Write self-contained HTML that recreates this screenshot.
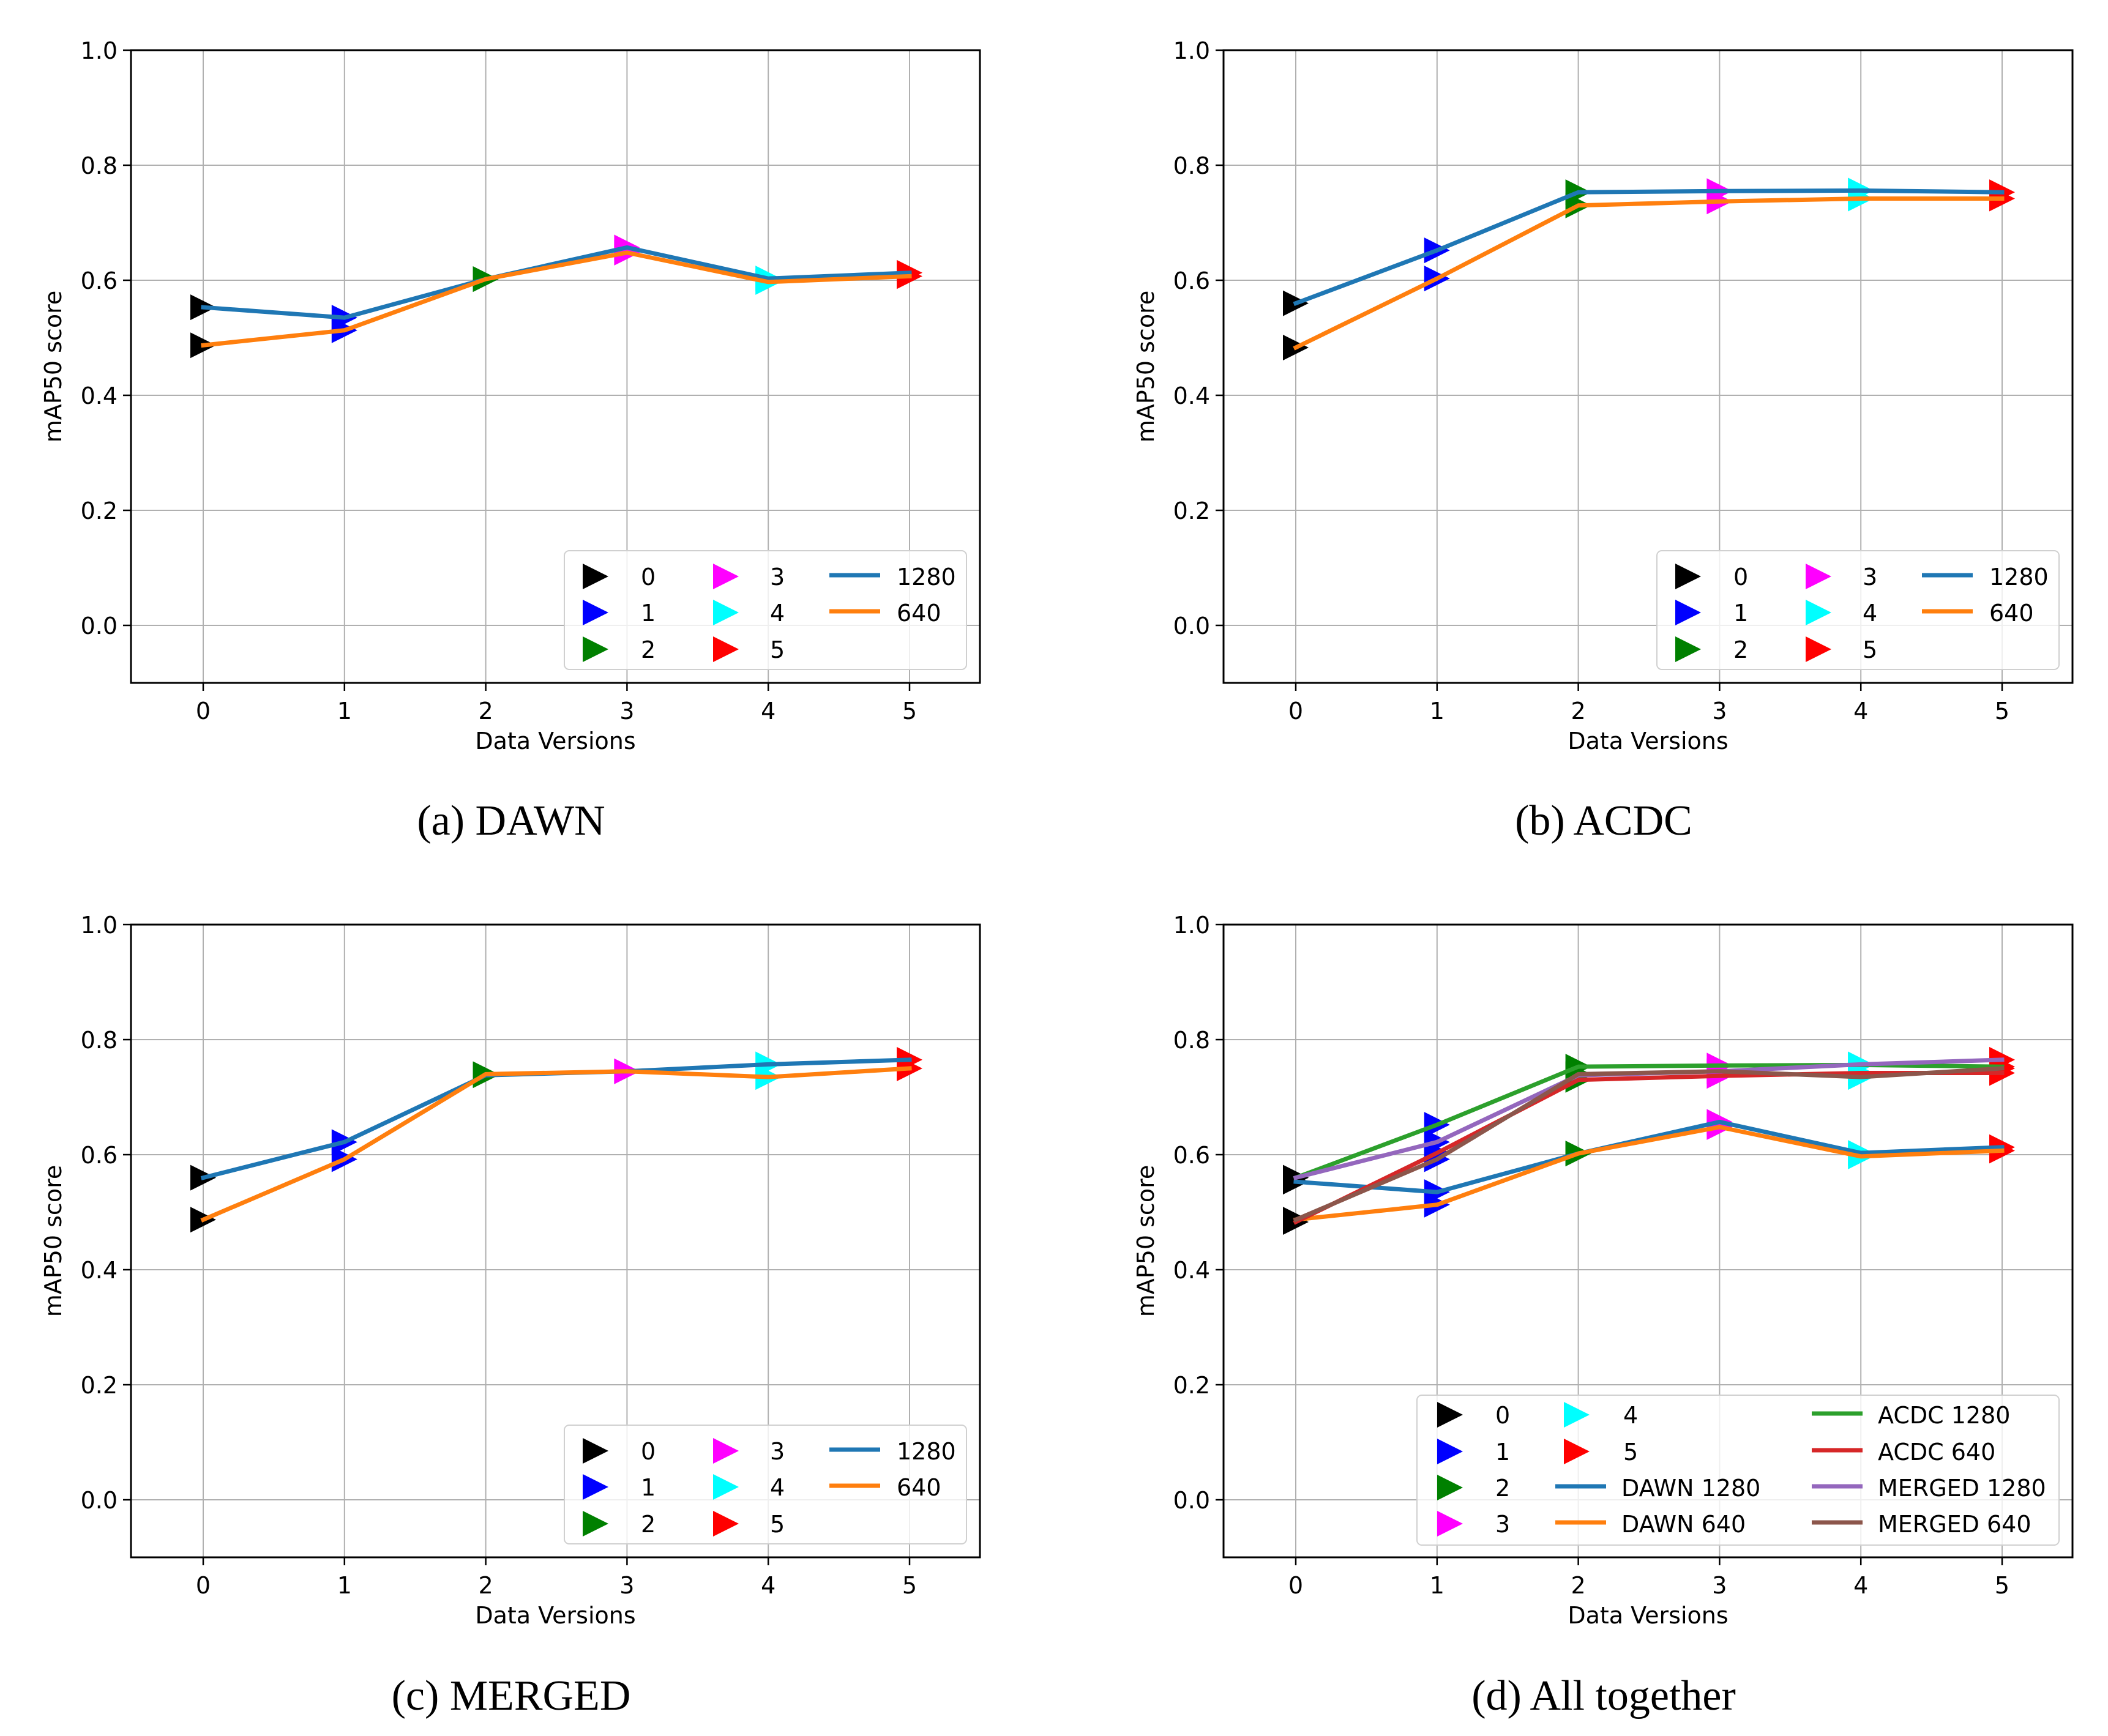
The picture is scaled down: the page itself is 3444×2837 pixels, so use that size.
<!DOCTYPE html>
<html><head><meta charset="utf-8">
<style>
html,body{margin:0;padding:0;background:#fff;}
svg{display:block;}
text{font-family:"DejaVu Sans","Liberation Sans",sans-serif;fill:#000;}
.cap{font-family:"Liberation Serif",serif;font-size:70px;}
</style></head>
<body>
<svg id="fig" width="3444" height="2837" viewBox="0 0 3444 2837" xmlns="http://www.w3.org/2000/svg"></svg>
<script>
const versions = [0,1,2,3,4,5];
const yTicks = [0.0,0.2,0.4,0.6,0.8,1.0];
const yTickLabels = ["0.0","0.2","0.4","0.6","0.8","1.0"];
const markerColors = ["#000000","#0000ff","#008000","#ff00ff","#00ffff","#ff0000"];
const dawn1280 = [0.553,0.535,0.602,0.657,0.603,0.613];
const dawn640 = [0.487,0.513,0.602,0.648,0.597,0.607];
const acdc1280 = [0.560,0.652,0.753,0.755,0.756,0.753];
const acdc640 = [0.483,0.603,0.730,0.737,0.742,0.742];
const merged1280 = [0.560,0.622,0.738,0.745,0.757,0.765];
const merged640 = [0.487,0.592,0.740,0.745,0.735,0.750];
const captions = ["(a)  DAWN","(b)  ACDC","(c)  MERGED","(d)  All together"];

const NS="http://www.w3.org/2000/svg";
const svg=document.getElementById('fig');
function mk(tag,attrs,parent){const e=document.createElementNS(NS,tag);for(const k in attrs)e.setAttribute(k,attrs[k]);(parent||svg).appendChild(e);return e;}

const panels=[
 {ox:0,oy:0,name:'dawn',series:[{v:dawn1280,c:'#1f77b4',l:'1280'},{v:dawn640,c:'#ff7f0e',l:'640'}]},
 {ox:1785,oy:0,name:'acdc',series:[{v:acdc1280,c:'#1f77b4',l:'1280'},{v:acdc640,c:'#ff7f0e',l:'640'}]},
 {ox:0,oy:1429,name:'merged',series:[{v:merged1280,c:'#1f77b4',l:'1280'},{v:merged640,c:'#ff7f0e',l:'640'}]},
 {ox:1785,oy:1429,name:'all',series:[
   {v:dawn1280,c:'#1f77b4',l:'DAWN 1280'},{v:dawn640,c:'#ff7f0e',l:'DAWN 640'},
   {v:acdc1280,c:'#2ca02c',l:'ACDC 1280'},{v:acdc640,c:'#d62728',l:'ACDC 640'},
   {v:merged1280,c:'#9467bd',l:'MERGED 1280'},{v:merged640,c:'#8c564b',l:'MERGED 640'}]}
];

function tri(g,cx,cy,r,color){
  const p=mk('polygon',{points:`${cx+r},${cy} ${cx-r},${cy-r} ${cx-r},${cy+r}`,fill:color},g);
  
  
  return p;
}

panels.forEach((P,pi)=>{
  const L=214+P.ox,R=1601+P.ox,T=82+P.oy,B=1116+P.oy;
  const xs=v=>332+P.ox+v*230.8;
  const ys=v=>T+(1.0-v)/1.1*(B-T);
  const g=mk('g',{});
  
  
  versions.forEach(v=>{
    const l=mk('line',{x1:xs(v),x2:xs(v),y1:T,y2:B,stroke:'#b0b0b0','stroke-width':2},g);
    
    
    const t=mk('line',{x1:xs(v),x2:xs(v),y1:B,y2:B+13,stroke:'#000','stroke-width':2.5},g);
    
    
    const tx=mk('text',{x:xs(v),y:B+59,'font-size':38,'text-anchor':'middle'},g);
    tx.textContent=String(v);
    
    
  });
  yTicks.forEach((v,i)=>{
    const l=mk('line',{x1:L,x2:R,y1:ys(v),y2:ys(v),stroke:'#b0b0b0','stroke-width':2},g);
    
    
    const t=mk('line',{x1:L-13,x2:L,y1:ys(v),y2:ys(v),stroke:'#000','stroke-width':2.5},g);
    
    
    const tx=mk('text',{x:L-22,y:ys(v)+14,'font-size':38,'text-anchor':'end'},g);
    tx.textContent=yTickLabels[i];
    
    
  });
  P.series.forEach(s=>{
    s.v.forEach((val,i)=>tri(g,xs(versions[i]),ys(val),21,markerColors[i]));
  });
  P.series.forEach(s=>{
    const pl=mk('polyline',{points:s.v.map((val,i)=>xs(versions[i])+','+ys(val)).join(' '),fill:'none',stroke:s.c,'stroke-width':7,'stroke-linejoin':'round','stroke-linecap':'square'},g);
    
    
  });
  const fr=mk('rect',{x:L,y:T,width:R-L,height:B-T,fill:'none',stroke:'#000','stroke-width':3},g);
  
  
  const xl=mk('text',{x:(L+R)/2,y:B+108,'font-size':38,'text-anchor':'middle'},g);
  xl.textContent='Data Versions';
  
  
  const cy=(T+B)/2;
  const yl=mk('text',{x:0,y:0,'font-size':38,'text-anchor':'middle',transform:`translate(${100+P.ox},${cy}) rotate(-90)`},g);
  yl.textContent='mAP50 score';
  
  
  const lg=mk('g',{},g);
  
  
  if(pi<3){
    const bx=922+P.ox,by=900+P.oy;
    mk('rect',{x:bx,y:by,width:657,height:194,rx:8,fill:'#fff','fill-opacity':0.8,stroke:'#d0d0d0','stroke-width':2},lg);
    const rows=[942,1001,1061].map(y=>y+P.oy);
    versions.forEach((v,i)=>{
      const col=Math.floor(i/3),row=i%3;
      tri(lg,(col?1186:973)+P.ox,rows[row],21,markerColors[i]);
      const t=mk('text',{x:(col?1258:1047)+P.ox,y:rows[row]+14,'font-size':38},lg);
      t.textContent=String(v);
      
      
    });
    P.series.forEach((s,j)=>{
      mk('line',{x1:1355+P.ox,x2:1438+P.ox,y1:rows[j]-2,y2:rows[j]-2,stroke:s.c,'stroke-width':7},lg);
      const t=mk('text',{x:1465+P.ox,y:rows[j]+14,'font-size':38},lg);
      t.textContent=s.l;
      
      
    });
  } else {
    mk('rect',{x:2315,y:2280,width:1049,height:245,rx:8,fill:'#fff','fill-opacity':0.8,stroke:'#d0d0d0','stroke-width':2},lg);
    const rows=[2312,2372,2431,2490];
    versions.forEach((v,i)=>{
      const col=i<4?0:1,row=i<4?i:i-4;
      tri(lg,col?2576:2369,rows[row],21,markerColors[i]);
      const t=mk('text',{x:col?2652:2443,y:rows[row]+14,'font-size':38},lg);
      t.textContent=String(v);
      
      
    });
    P.series.forEach((s,j)=>{
      let lx,ly;
      if(j<2){lx=2541;ly=rows[2+j];}else{lx=2960;ly=rows[j-2];}
      mk('line',{x1:lx,x2:lx+83,y1:ly-2,y2:ly-2,stroke:s.c,'stroke-width':7},lg);
      const t=mk('text',{x:lx+108,y:ly+14,'font-size':38},lg);
      t.textContent=s.l;
      
      
    });
  }
  const cap=mk('text',{x:(pi%2? 2620:835),y:(pi<2?1364:2794),'text-anchor':'middle','class':'cap'});
  cap.textContent=captions[pi];
  
  
});
</script>
</body></html>
